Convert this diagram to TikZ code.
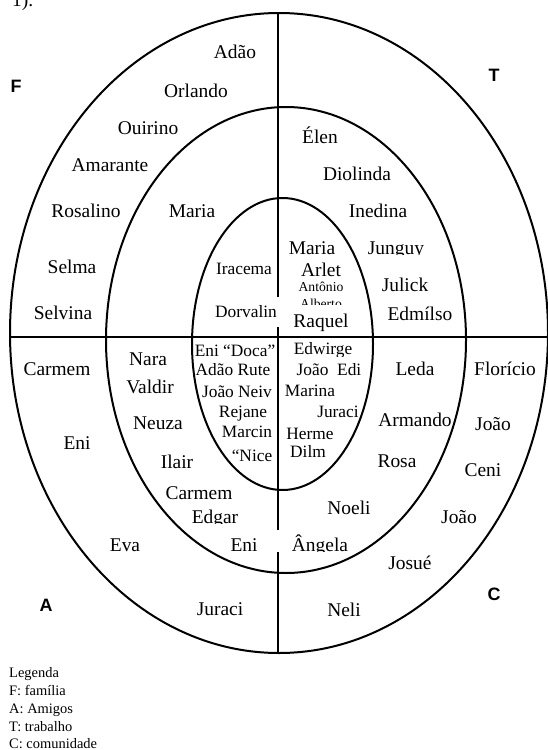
\documentclass[tikz,border=0pt]{standalone}
\usepackage{fontspec}
\setmainfont{Liberation Serif}
\newfontfamily\labfont{Liberation Sans}
\begin{document}
\begin{tikzpicture}[x=1bp,y=-1bp,
  ring/.style={line width=2bp},
  nm/.style={inner sep=0pt, font=\fontsize{19.5}{22}\selectfont, text height=13bp, text depth=0pt},
  sm/.style={inner sep=0pt, font=\fontsize{17.4}{20}\selectfont, text height=11.5bp, text depth=0pt},
  smaller/.style={inner sep=0pt, font=\fontsize{13.7}{16}\selectfont, text height=9bp, text depth=0pt},
  quad/.style={inner sep=0pt, font=\labfont\bfseries\fontsize{18}{20}\selectfont, text height=13bp, text depth=0pt},
  leg/.style={anchor=west, inner sep=0pt, font=\fontsize{14.5}{16}\selectfont, text height=10bp, text depth=0pt}]
\useasboundingbox (0,0) rectangle (548,750);

% rings and axes
\draw[ring] (279,333) ellipse [x radius=269, y radius=320];
\draw[ring] (286,340) ellipse [x radius=180, y radius=233];
\draw[ring] (282.5,344) ellipse [x radius=90.5, y radius=146];
\coordinate (vt) at (278,13);
\coordinate (vb) at (278,653);
\coordinate (hl) at (10,337);
\coordinate (hr) at (548,337);
\draw[ring] (vt) -- (vb);
\draw[ring] (hl) -- (hr);

% white text boxes covering the axis
\fill[white] (212,297) rectangle (281,327);
\fill[white] (228,530) rectangle (281,552);

% fragment at top
\node[anchor=base west, inner sep=0pt, font=\fontsize{19.5}{22}\selectfont] (frag) at (12,7) {1).};

% quadrant letters
\node[quad] (F) at (16,86) {F};
\node[quad] (T) at (494,75) {T};
\node[quad] (A) at (46,605) {A};
\node[quad] (C) at (494,594) {C};

% F quadrant
\node[nm] (f1) at (235,52) {Adão};
\node[nm] (f2) at (196,91) {Orlando};
\node[nm] (f3) at (148,128) {Ouirino};
\node[nm] (f4) at (110,165) {Amarante};
\node[nm] (f5) at (86,211) {Rosalino};
\node[nm] (f6) at (192,211) {Maria};
\node[nm] (f7) at (72,267) {Selma};
\node[nm] (f8) at (63,313) {Selvina};
\node[sm] (f9) at (244,269) {Iracema};
\node[sm] (f10) at (246,312) {Dorvalin};

% T quadrant
\node[nm] (t1) at (320,137) {Élen};
\node[nm] (t2) at (357,174) {Diolinda};
\node[nm] (t3) at (378,211) {Inedina};
\node[nm] (t4) at (312,248) {Maria};
\node[nm] (t5) at (321,270) {Arlet};
\node[smaller] (t6) at (321,287) {Antônio};
\begin{scope}
\clip (290,290) rectangle (360,304);
\node[smaller] (t7) at (321,303.5) {Alberto};
\end{scope}
\node[nm] (t8) at (321,321) {Raquel};
\begin{scope}
\clip (350,230) rectangle (450,254);
\node[nm] (t9) at (396,248) {Junguy};
\end{scope}
\node[nm] (t10) at (405,285) {Julick};
\node[nm] (t11) at (420,314) {Edmílso};

% A quadrant
\node[nm] (a1) at (57,369) {Carmem};
\node[nm] (a2) at (148,359) {Nara};
\node[nm] (a3) at (150,387) {Valdir};
\node[sm] (a4) at (235,351) {Eni “Doca”};
\node[sm] (a5) at (233,370) {Adão Rute};
\node[sm] (a6) at (237,392) {João Neiv};
\node[sm] (a7) at (243,412) {Rejane};
\node[sm] (a8) at (247,432) {Marcin};
\node[sm] (a9) at (252,456) {“Nice};
\node[nm] (a10) at (158,423) {Neuza};
\node[nm] (a11) at (77,443) {Eni};
\node[nm] (a12) at (177,462) {Ilair};
\node[nm] (a13) at (199,493) {Carmem};
\begin{scope}
\clip (180,500) rectangle (250,523);
\node[nm] (a14) at (215,517) {Edgar};
\end{scope}
\node[nm] (a15) at (125,545) {Eva};
\node[nm] (a16) at (244,545) {Eni};
\node[nm] (a17) at (220,609) {Juraci};

% C quadrant
\begin{scope}
\clip (285,335) rectangle (365,356);
\node[sm] (c1) at (323,349) {Edwirge};
\end{scope}
\node[sm] (c2) at (329,370) {João~~Edi};
\node[sm] (c3) at (310,391) {Marina};
\node[sm] (c4) at (338,412) {Juraci};
\node[sm] (c5) at (310,434) {Herme};
\node[sm] (c6) at (308,452) {Dilm};
\node[nm] (c7) at (415,369) {Leda};
\node[nm] (c8) at (505,369) {Florício};
\node[nm] (c9) at (415,420) {Armando};
\begin{scope}
\clip (465,405) rectangle (525,430);
\node[nm] (c10) at (493,424) {João};
\end{scope}
\node[nm] (c11) at (397,461) {Rosa};
\node[nm] (c12) at (483,470) {Ceni};
\node[nm] (c13) at (349,508) {Noeli};
\node[nm] (c14) at (459,517) {João};
\begin{scope}
\clip (285,525) rectangle (360,551);
\node[nm] (c15) at (320,545) {Ângela};
\end{scope}
\node[nm] (c16) at (410,563) {Josué};
\node[nm] (c17) at (344,610) {Neli};

% legend
\node[leg] (l1) at (9,672) {Legenda};
\node[leg] (l2) at (9,690) {F: família};
\node[leg] (l3) at (9,708) {A: Amigos};
\node[leg] (l4) at (9,726) {T: trabalho};
\node[leg] (l5) at (9,743) {C: comunidade};
\end{tikzpicture}
\end{document}
